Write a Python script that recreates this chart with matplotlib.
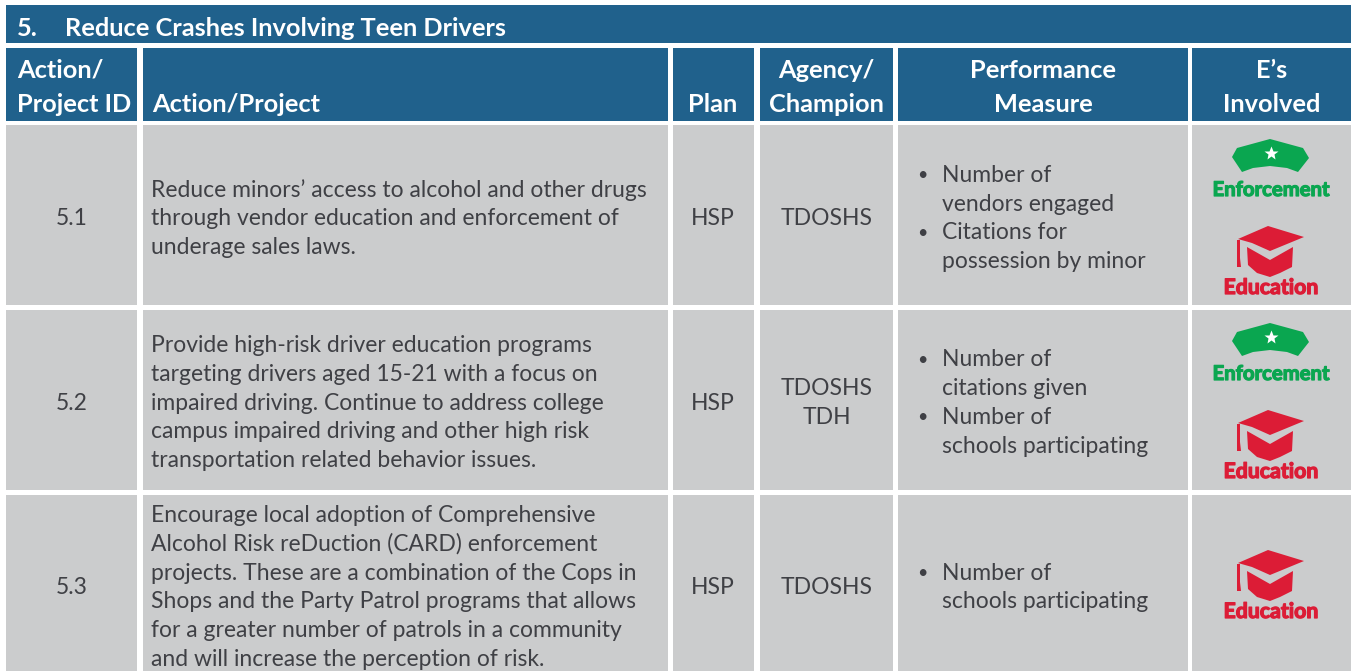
import matplotlib
matplotlib.use('Agg')
import matplotlib.pyplot as plt
import matplotlib.patheffects as pe
from matplotlib.patches import Polygon, Rectangle

plt.rcParams['font.family'] = ['Lato', 'DejaVu Sans']

title = '5.'
title2 = 'Reduce Crashes Involving Teen Drivers'
ids = ['5.1', '5.2', '5.3']
plans = ['HSP', 'HSP', 'HSP']
agencies = ['TDOSHS', 'TDOSHS\nTDH', 'TDOSHS']
actions = [
    ['Reduce minors\u2019 access to alcohol and other drugs',
     'through vendor education and enforcement of',
     'underage sales laws.'],
    ['Provide high-risk driver education programs',
     'targeting drivers aged 15-21 with a focus on',
     'impaired driving. Continue to address college',
     'campus impaired driving and other high risk',
     'transportation related behavior issues.'],
    ['Encourage local adoption of Comprehensive',
     'Alcohol Risk reDuction (CARD) enforcement',
     'projects. These are a combination of the Cops in',
     'Shops and the Party Patrol programs that allows',
     'for a greater number of patrols in a community',
     'and will increase the perception of risk.'],
]
measures = [
    [['Number of', 'vendors engaged'], ['Citations for', 'possession by minor']],
    [['Number of', 'citations given'], ['Number of', 'schools participating']],
    [['Number of', 'schools participating']],
]
es = [['Enforcement', 'Education'], ['Enforcement', 'Education'], ['Education']]

col_left = [6, 143, 673, 760, 898, 1192]
col_right = [137, 668, 754, 893, 1188, 1351]
row_top = [125, 310, 495]
row_bot = [305, 490, 671]
row_mid = [218.5, 403, 587.5]

BLUE = '#20618c'
GREY = '#cbcccd'
GREEN = '#0aa650'
RED = '#dc1c36'
TXT = '#3f4045'
BODY = 16.5
HEAD = 18.3

fig = plt.figure(figsize=(13.51, 6.71), dpi=100)
ax = fig.add_axes([0, 0, 1, 1])
ax.set_xlim(0, 1351)
ax.set_ylim(671, 0)
ax.axis('off')


def box(x0, y0, x1, y1, c):
    ax.add_patch(Rectangle((x0, y0), x1 - x0, y1 - y0, fc=c, ec='none'))


def put(x, y, s, size=BODY, color=TXT, ha='center', weight='normal', **kw):
    return ax.text(x, y, s, fontsize=size, color=color, ha=ha, va='center', fontweight=weight, **kw)


def icon_label(y, s, size, color):
    t = put(1271, y, s, size, color, weight='bold')
    # the original lettering is heavier than Lato bold
    t.set_path_effects([pe.withStroke(linewidth=0.9, foreground=color)])


# title bar
box(6, 5, 1351, 43, BLUE)
put(17, 28, title, HEAD, 'white', 'left', 'bold')
put(65, 28, title2, HEAD, 'white', 'left', 'bold')

# header cells
for l, r in zip(col_left, col_right):
    box(l, 48, r, 121, BLUE)
put(17, 70, 'Action/', HEAD, 'white', 'left', 'bold')
put(17, 104, 'Project ID', HEAD, 'white', 'left', 'bold')
put(152, 104, 'Action/Project', HEAD, 'white', 'left', 'bold')
put(713, 104, 'Plan', HEAD, 'white', 'center', 'bold')
put(826, 70, 'Agency/', HEAD, 'white', 'center', 'bold')
put(826, 104, 'Champion', HEAD, 'white', 'center', 'bold')
put(1043, 70, 'Performance', HEAD, 'white', 'center', 'bold')
put(1043, 104, 'Measure', HEAD, 'white', 'center', 'bold')
put(1272, 70, 'E\u2019s', HEAD, 'white', 'center', 'bold')
put(1272, 104, 'Involved', HEAD, 'white', 'center', 'bold')


def enforcement(dy):
    # outline read from the zoomed icon, local px from the cell corner
    hat = [(42, 32), (47, 23), (80, 14), (113, 23), (119, 33), (108, 47), (97, 43),
           (80, 41), (63, 43), (52, 47)]
    ax.add_patch(Polygon([(1190 + x, 125 + y + dy) for x, y in hat], fc=GREEN, ec='none'))
    ax.plot([1271], [153 + dy], marker='*', ms=10, color='white', mec='none')
    icon_label(190 + dy, 'Enforcement', 14.6, GREEN)


def education(dy):
    board = [(48, 114), (78, 101), (114, 112), (80, 126), (62, 118)]
    base = [(57, 122), (80, 135), (103, 122), (102, 142), (90, 148), (80, 152),
            (67, 148), (58, 140)]
    tassel = [(47, 115), (50, 115), (50, 133), (51, 142), (47, 142), (47, 133)]
    for shape in (board, base, tassel):
        ax.add_patch(Polygon([(1190 + x, 125 + y + dy) for x, y in shape], fc=RED, ec='none'))
    icon_label(288 + dy, 'Education', 15.3, RED)


for i in range(3):
    for l, r in zip(col_left, col_right):
        box(l, row_top[i], r, row_bot[i], GREY)
    put(72, row_mid[i], ids[i])
    put(713, row_mid[i], plans[i])
    lines = agencies[i].split('\n')
    for k, s in enumerate(lines):
        put(827, row_mid[i] + (k - (len(lines) - 1) / 2) * 29, s)

    n = len(actions[i])
    for k, s in enumerate(actions[i]):
        put(151, row_mid[i] + (k - (n - 1) / 2) * 28.8, s, ha='left')

    flat = [(j, s) for j, m in enumerate(measures[i]) for s in m]
    for k, (j, s) in enumerate(flat):
        y = row_mid[i] + (k - (len(flat) - 1) / 2) * 28.8
        put(942, y, s, ha='left')
        if s == measures[i][j][0]:
            put(922, y, '\u2022', ha='center', size=13)

    if es[i] == ['Education']:
        education(324)
    else:
        dy = 0 if i == 0 else 184
        enforcement(dy)
        education(dy)

fig.savefig('out.png', dpi=100)
